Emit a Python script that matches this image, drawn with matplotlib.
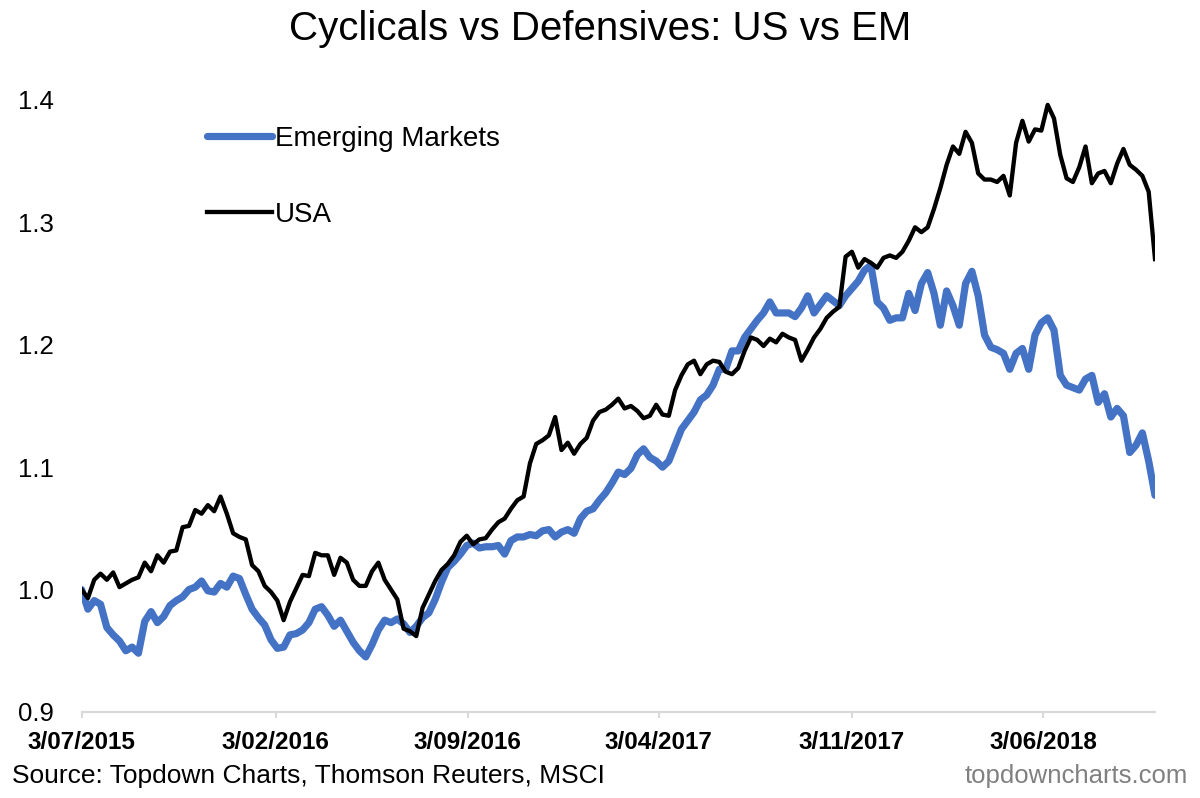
import pandas as pd
import matplotlib
matplotlib.use('Agg')
import matplotlib.pyplot as plt

plt.rcParams['font.family'] = ['Liberation Sans', 'DejaVu Sans']

# weekly readings, both series rebased to 1.0 on 3/07/2015
start_date = '2015-07-03'

usa = [1.00, 0.993, 1.008, 1.013, 1.008, 1.014, 1.002, 1.005, 1.008, 1.01,
       1.022, 1.015, 1.028, 1.022, 1.031, 1.032, 1.051, 1.052, 1.065, 1.062,
       1.069, 1.064, 1.076, 1.062, 1.046, 1.043, 1.041, 1.02, 1.015, 1.003,
       0.998, 0.991, 0.975, 0.99, 1.001, 1.012, 1.011, 1.03, 1.028, 1.028,
       1.012, 1.026, 1.022, 1.008, 1.003, 1.003, 1.015, 1.022, 1.008, 1.0,
       0.992, 0.968, 0.966, 0.962, 0.985, 0.996, 1.007, 1.016, 1.021, 1.028,
       1.039, 1.044, 1.037, 1.041, 1.042, 1.049, 1.055, 1.058, 1.066, 1.073,
       1.076, 1.103, 1.119, 1.122, 1.126, 1.141, 1.114, 1.12, 1.111, 1.119,
       1.124, 1.138, 1.145, 1.147, 1.151, 1.156, 1.148, 1.15, 1.146, 1.14,
       1.142, 1.151, 1.143, 1.142, 1.163, 1.175, 1.184, 1.187, 1.176, 1.184,
       1.187, 1.186, 1.178, 1.176, 1.181, 1.195, 1.206, 1.204, 1.199, 1.205,
       1.202, 1.209, 1.206, 1.204, 1.187, 1.196, 1.206, 1.213, 1.222, 1.227,
       1.231, 1.272, 1.276, 1.263, 1.27, 1.267, 1.263, 1.271, 1.273, 1.271,
       1.276, 1.285, 1.296, 1.292, 1.296, 1.311, 1.328, 1.347, 1.362, 1.356,
       1.374, 1.365, 1.34, 1.335, 1.335, 1.333, 1.338, 1.322, 1.365, 1.383,
       1.366, 1.376, 1.375, 1.396, 1.385, 1.355, 1.336, 1.333, 1.345, 1.362,
       1.332, 1.34, 1.342, 1.332, 1.348, 1.36, 1.347, 1.343, 1.338, 1.325,
       1.27]

em = [1.00, 0.984, 0.991, 0.988, 0.969, 0.963, 0.958, 0.95, 0.953, 0.948,
      0.974, 0.982, 0.973, 0.978, 0.987, 0.991, 0.994, 1.0, 1.002, 1.007,
      0.999, 0.998, 1.005, 1.002, 1.011, 1.009, 0.996, 0.984, 0.977, 0.971,
      0.959, 0.952, 0.953, 0.963, 0.964, 0.967, 0.973, 0.984, 0.986, 0.979,
      0.97, 0.975, 0.966, 0.957, 0.95, 0.945, 0.955, 0.967, 0.975, 0.973,
      0.976, 0.972, 0.965, 0.97, 0.977, 0.981, 0.992, 1.006, 1.018, 1.023,
      1.029, 1.036, 1.038, 1.034, 1.035, 1.035, 1.036, 1.029, 1.04, 1.043,
      1.043, 1.045, 1.044, 1.048, 1.049, 1.043, 1.047, 1.049, 1.046, 1.058,
      1.064, 1.066, 1.073, 1.079, 1.087, 1.096, 1.094, 1.099, 1.11, 1.115,
      1.108, 1.105, 1.10, 1.105, 1.118, 1.131, 1.138, 1.145, 1.155, 1.159,
      1.167, 1.18, 1.18, 1.195, 1.195, 1.206, 1.213, 1.22, 1.226, 1.235,
      1.226, 1.226, 1.226, 1.223, 1.23, 1.24, 1.226, 1.233, 1.24, 1.236,
      1.232, 1.24, 1.246, 1.252, 1.261, 1.265, 1.235, 1.23, 1.22, 1.222,
      1.222, 1.242, 1.228, 1.25, 1.259, 1.242, 1.216, 1.244, 1.232, 1.216,
      1.25, 1.26, 1.24, 1.208, 1.198, 1.196, 1.193, 1.18, 1.193, 1.197,
      1.18, 1.208, 1.218, 1.222, 1.212, 1.175, 1.167, 1.165, 1.163, 1.172,
      1.175, 1.153, 1.16, 1.141, 1.148, 1.142, 1.112, 1.118, 1.128, 1.105,
      1.077]

tick_dates = ['2015-07-03', '2016-02-03', '2016-09-03', '2017-04-03',
              '2017-11-03', '2018-06-03']
tick_labels = ['3/07/2015', '3/02/2016', '3/09/2016', '3/04/2017',
               '3/11/2017', '3/06/2018']
y_ticks = [0.9, 1.0, 1.1, 1.2, 1.3, 1.4]

dates = pd.date_range(start_date, periods=len(usa), freq='7D')
df = pd.DataFrame({'USA': usa, 'Emerging Markets': em}, index=dates)

fig = plt.figure(figsize=(12, 7.98), dpi=100)
ax = fig.add_axes([0.068, 0.1078, 0.8945, 0.7669])

ax.plot(df.index, df['Emerging Markets'], color='#4472C4', lw=5.2,
        solid_joinstyle='round', solid_capstyle='round', label='Emerging Markets')
ax.plot(df.index, df['USA'], color='black', lw=3.1,
        solid_joinstyle='round', label='USA')

ax.set_ylim(0.9, 1.4)
ax.set_xlim(df.index[0], df.index[-1])
ax.set_yticks(y_ticks)
ax.set_yticklabels([f'{v:.1f}' for v in y_ticks], fontsize=18.5)
ax.set_xticks(pd.to_datetime(tick_dates))
ax.set_xticklabels(tick_labels, fontsize=17.5, fontweight='bold')

for side in ['left', 'right', 'top']:
    ax.spines[side].set_visible(False)
ax.spines['bottom'].set_color('#d9d9d9')
ax.spines['bottom'].set_linewidth(1.6)
ax.tick_params(axis='y', length=0, pad=20)
ax.tick_params(axis='x', length=4, width=1.5, color='#d9d9d9', pad=10)

fig.suptitle('Cyclicals vs Defensives: US vs EM', fontsize=29, y=0.987)

ax.legend(loc='upper left', bbox_to_anchor=(207 / 1200, 1 - 126 / 798),
          bbox_transform=fig.transFigure, frameon=False, fontsize=20,
          handlelength=2.35, handletextpad=0.1, labelspacing=1.8,
          borderpad=0, borderaxespad=0)

fig.text(0.01, 0.027, 'Source: Topdown Charts, Thomson Reuters, MSCI',
         fontsize=19, ha='left', va='center')
fig.text(0.99, 0.027, 'topdowncharts.com', fontsize=18.5, color='#808080',
         ha='right', va='center')

fig.savefig('out.png', dpi=100)
